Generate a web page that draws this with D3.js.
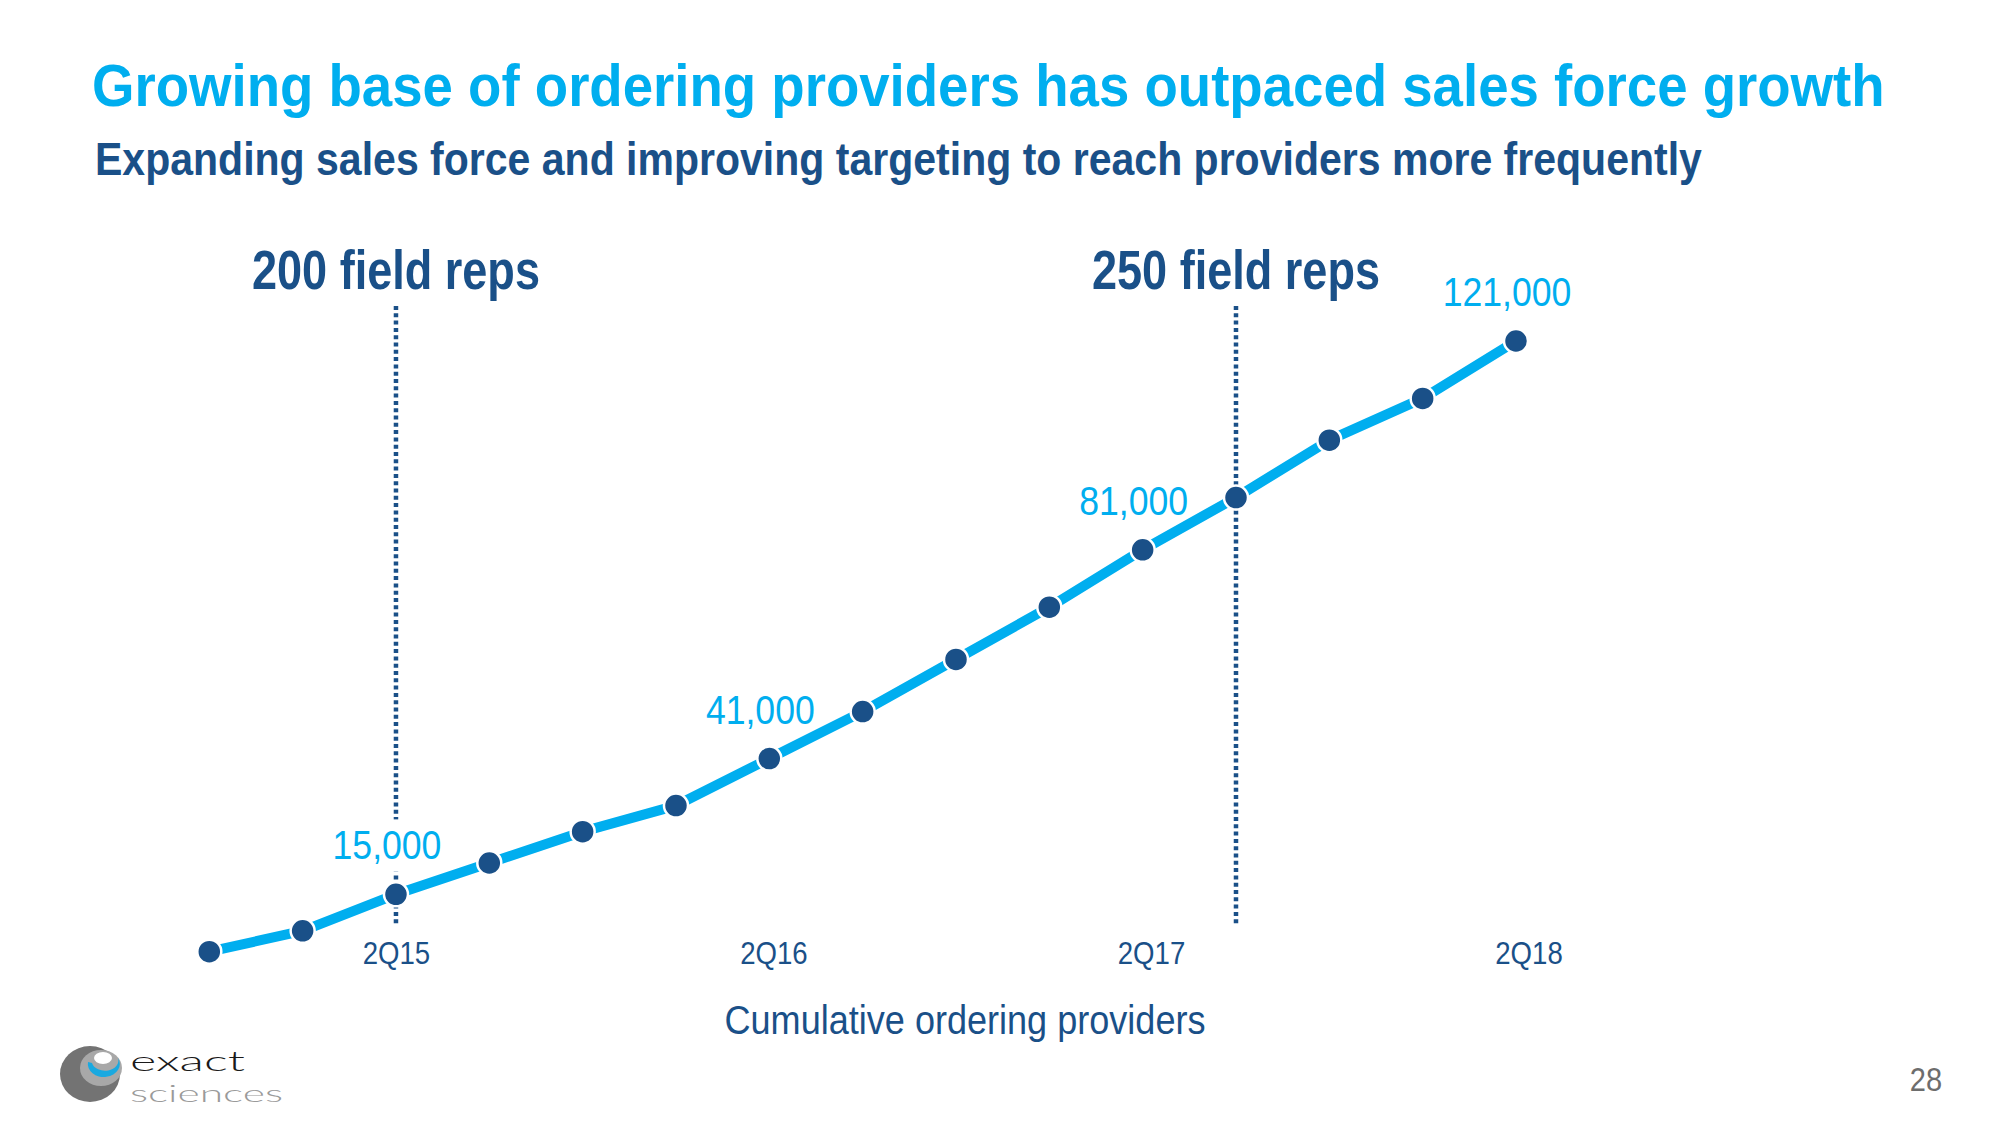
<!DOCTYPE html>
<html>
<head>
<meta charset="utf-8">
<script src="https://cdn.jsdelivr.net/npm/d3@7"></script>
<style>
  html, body { margin: 0; padding: 0; background: #ffffff; }
  svg { display: block; }
  .narrow { font-family: "Liberation Sans Narrow", "Arial Narrow", "Liberation Sans", Arial, sans-serif; }
</style>
</head>
<body>
<svg id="chart" width="2000" height="1125"></svg>
<script>
// ---- Data ----
const categories = ["4Q14","1Q15","2Q15","3Q15","4Q15","1Q16","2Q16","3Q16","4Q16","1Q17","2Q17","3Q17","4Q17","1Q18","2Q18"];
const providers = [4000, 8000, 15000, 21000, 27000, 32000, 41000, 50000, 60000, 70000, 81000, 91000, 102000, 110000, 121000];
const tickLabels = ["2Q15","2Q16","2Q17","2Q18"];
const labeledQuarters = ["2Q15","2Q16","2Q17","2Q18"];
const repQuarters = ["2Q15","3Q17"];
const repLabels = ["200 field reps","250 field reps"];
const titleText = "Growing base of ordering providers has outpaced sales force growth";
const subtitleText = "Expanding sales force and improving targeting to reach providers more frequently";
const axisTitle = "Cumulative ordering providers";
const pageNumber = "28";

// ---- Styles ----
const LIGHT_BLUE = "#00AEEF";
const DARK_BLUE = "#1A5088";
const svg = d3.select("#chart");

// Draw a horizontally condensed text (emulates a narrow typeface) via a scaleX transform.
function narrowText(parent, o) {
  const g = parent.append("g");
  const t = g.append("text").attr("class", "narrow")
    .attr("x", 0).attr("y", 0)
    .attr("text-anchor", o.anchor || "start")
    .attr("font-size", o.size)
    .attr("font-weight", o.weight || "normal")
    .attr("fill", o.fill)
    .text(o.text);
  const L = t.node().getComputedTextLength();
  const s = o.width ? o.width / L : (o.factor || 1);
  g.attr("transform", `translate(${o.x},${o.y}) scale(${s},1)`);
  return t;
}

const x = d3.scalePoint().domain(categories).range([209.3, 1516]);
const xAxisScale = d3.scalePoint().domain(categories).range([207.2, 1528.5]);
const y = d3.scaleLinear().domain([0, 130000]).range([972.6, 294.0]);
const fmt = d3.format(",");
const valueOf = q => providers[categories.indexOf(q)];

// Title & subtitle
narrowText(svg, { x: 92, y: 106, size: 59, weight: "bold", fill: LIGHT_BLUE, text: titleText, width: 1793 });
narrowText(svg, { x: 95, y: 175, size: 47, weight: "bold", fill: DARK_BLUE, text: subtitleText, width: 1607 });

// Sales force markers (dotted verticals)
repQuarters.forEach((q, i) => {
  svg.append("line")
    .attr("x1", x(q)).attr("x2", x(q))
    .attr("y1", 306).attr("y2", 924)
    .attr("stroke", DARK_BLUE).attr("stroke-width", 4.5)
    .attr("stroke-dasharray", "4 3.3");
  narrowText(svg, { x: x(q), y: 289, anchor: "middle", size: 56, weight: "bold", fill: DARK_BLUE, text: repLabels[i], width: 288 });
});

const bgLayer = svg.append("g");
const lineLayer = svg.append("g");
const labelLayer = svg.append("g");

labeledQuarters.forEach(q => {
  const lx = x(q) - 9, ly = y(valueOf(q)) - 35;
  const t = narrowText(labelLayer, { x: lx, y: ly, anchor: "middle", size: 40, fill: LIGHT_BLUE, text: fmt(valueOf(q)), factor: 0.89 });
  const bb = t.node().getBBox();
  bgLayer.append("rect")
    .attr("x", lx + bb.x * 0.89 - 4).attr("y", ly + bb.y - 4)
    .attr("width", bb.width * 0.89 + 8).attr("height", bb.height + 8)
    .attr("fill", "#ffffff");
});

// Line
const line = d3.line().x((d, i) => x(categories[i])).y(d => y(d));
lineLayer.append("path")
  .datum(providers)
  .attr("d", line)
  .attr("fill", "none")
  .attr("stroke", LIGHT_BLUE)
  .attr("stroke-width", 10)
  .attr("stroke-linejoin", "round");

lineLayer.selectAll("circle")
  .data(providers)
  .join("circle")
  .attr("cx", (d, i) => x(categories[i]))
  .attr("cy", d => y(d))
  .attr("r", 12)
  .attr("fill", DARK_BLUE)
  .attr("stroke", "#ffffff")
  .attr("stroke-width", 2.5);

// X axis
const axisG = svg.append("g")
  .attr("transform", "translate(0,939)")
  .call(d3.axisBottom(xAxisScale).tickValues(tickLabels).tickSize(0).tickPadding(3));
axisG.select(".domain").remove();
axisG.attr("font-family", null).attr("font-size", null);
axisG.selectAll("text")
  .attr("class", "narrow")
  .attr("font-size", 31)
  .attr("fill", DARK_BLUE)
  .attr("transform", "scale(0.89,1)");

// Axis title
narrowText(svg, { x: 965, y: 1034, anchor: "middle", size: 40, fill: DARK_BLUE, text: axisTitle, width: 481 });

// Page number
narrowText(svg, { x: 1926, y: 1091, anchor: "middle", size: 33, fill: "#6d6d6d", text: pageNumber, factor: 0.88 });

// Logo
const logo = svg.append("g");
logo.append("ellipse").attr("cx", 90).attr("cy", 1074).attr("rx", 30).attr("ry", 28).attr("fill", "#737373");
logo.append("ellipse").attr("cx", 101).attr("cy", 1068).attr("rx", 21).attr("ry", 18).attr("fill", "#a8a8a8");
logo.append("path")
  .attr("d", "M 88 1062 A 16 13 0 1 0 118 1058 A 13 10 0 0 1 92 1063 Z")
  .attr("fill", "#1aa9e0");
logo.append("ellipse").attr("cx", 103).attr("cy", 1058).attr("rx", 9).attr("ry", 6).attr("fill", "#ffffff");
logo.append("text")
  .attr("x", 130).attr("y", 1071)
  .attr("font-family", "Lato, 'Open Sans', sans-serif").attr("font-weight", 300)
  .attr("font-size", 28)
  .attr("textLength", 115).attr("lengthAdjust", "spacingAndGlyphs")
  .attr("fill", "#1a1a1a").text("exact");
logo.append("text")
  .attr("x", 130).attr("y", 1102)
  .attr("font-family", "Lato, 'Open Sans', sans-serif").attr("font-weight", 300)
  .attr("font-size", 24)
  .attr("textLength", 153).attr("lengthAdjust", "spacingAndGlyphs")
  .attr("fill", "#9a9a9a").text("sciences");
</script>
</body>
</html>
